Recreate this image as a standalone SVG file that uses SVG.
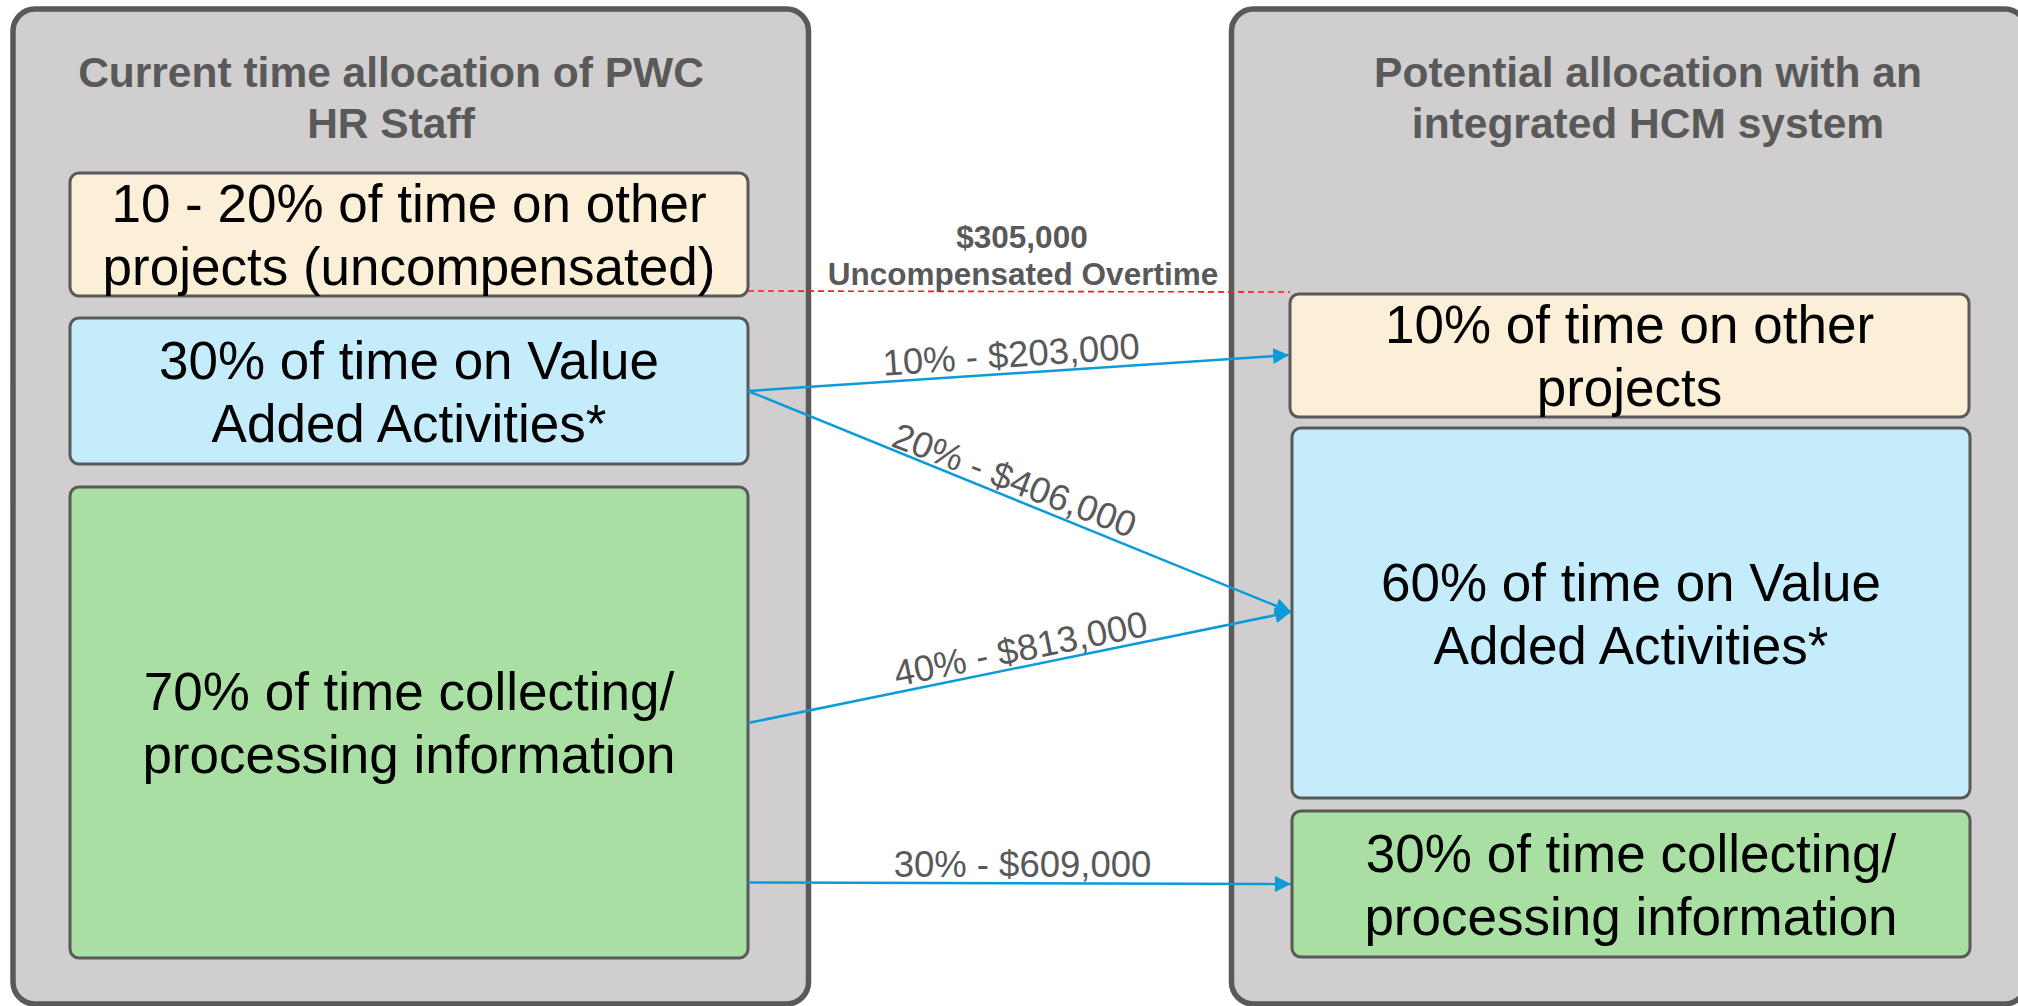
<svg xmlns="http://www.w3.org/2000/svg" width="2018" height="1006" viewBox="0 0 2018 1006">
  <style>
    .panel { fill: #D0CECE; stroke: #595959; stroke-width: 5.5; }
    .box { stroke: #595959; stroke-width: 3; }
    .cream { fill: #FBEFD8; }
    .sky { fill: #C5ECFB; }
    .mint { fill: #A9DFA2; }
    .title { font-family: "Liberation Sans", Arial, sans-serif; font-weight: bold; font-size: 42.5px; fill: #595959; text-anchor: middle; }
    .body { font-family: "Liberation Sans", Arial, sans-serif; font-size: 53px; fill: #000000; text-anchor: middle; }
    .flow { fill: none; stroke: #0B9BD8; stroke-width: 2.5; marker-end: url(#head); }
    .flowlabel { font-family: "Liberation Sans", Arial, sans-serif; font-size: 36.5px; fill: #595959; text-anchor: middle; }
    .note { font-family: "Liberation Sans", Arial, sans-serif; font-weight: bold; font-size: 31.5px; fill: #595959; text-anchor: middle; }
    .overtime { fill: none; stroke: #FF1A1A; stroke-width: 1.6; stroke-dasharray: 6 4; }
  </style>
  <defs>
    <marker id="head" markerUnits="userSpaceOnUse" markerWidth="18" markerHeight="18" refX="16" refY="8" orient="auto">
      <path d="M0,0 L16,8 L0,16 Z" fill="#0B9BD8"/>
    </marker>
  </defs>

  <rect x="0" y="0" width="2018" height="1006" fill="#FFFFFF"/>

  <!-- Current allocation column -->
  <g id="current-panel">
    <rect class="panel" x="13" y="9" width="795.5" height="995" rx="22" ry="22"/>
    <text class="title" x="391" y="87">Current time allocation of PWC</text>
    <text class="title" x="391" y="138">HR Staff</text>
  </g>

  <!-- Potential allocation column -->
  <g id="potential-panel">
    <rect class="panel" x="1231.5" y="9" width="795" height="995" rx="22" ry="22"/>
    <text class="title" x="1648" y="87">Potential allocation with an</text>
    <text class="title" x="1648" y="138">integrated HCM system</text>
  </g>

  <g id="current-other">
    <rect class="box cream" x="70" y="173" width="678" height="123" rx="9" ry="9"/>
    <text class="body" x="409" y="222">10 - 20% of time on other</text>
    <text class="body" x="409" y="285">projects (uncompensated)</text>
  </g>

  <g id="current-value">
    <rect class="box sky" x="70" y="318" width="678" height="146" rx="9" ry="9"/>
    <text class="body" x="409" y="379">30% of time on Value</text>
    <text class="body" x="409" y="442">Added Activities*</text>
  </g>

  <g id="current-processing">
    <rect class="box mint" x="70" y="487" width="678" height="471" rx="9" ry="9"/>
    <text class="body" x="409" y="710">70% of time collecting/</text>
    <text class="body" x="409" y="773">processing information</text>
  </g>

  <g id="potential-other">
    <rect class="box cream" x="1290" y="294" width="679" height="123" rx="9" ry="9"/>
    <text class="body" x="1629.5" y="343">10% of time on other</text>
    <text class="body" x="1629.5" y="406">projects</text>
  </g>

  <g id="potential-value">
    <rect class="box sky" x="1292" y="428" width="678" height="370" rx="9" ry="9"/>
    <text class="body" x="1631" y="601">60% of time on Value</text>
    <text class="body" x="1631" y="664">Added Activities*</text>
  </g>

  <g id="potential-processing">
    <rect class="box mint" x="1292" y="811" width="678" height="146" rx="9" ry="9"/>
    <text class="body" x="1631" y="872">30% of time collecting/</text>
    <text class="body" x="1631" y="935">processing information</text>
  </g>

  <!-- Connectors -->
  <g id="connectors">
    <line class="overtime" x1="748" y1="291" x2="1290" y2="292"/>
    <text class="note" x="1022" y="248">$305,000</text>
    <text class="note" x="1023" y="285">Uncompensated Overtime</text>

    <line class="flow" x1="748" y1="391" x2="1289" y2="355"/>
    <text class="flowlabel" transform="translate(1012,367) rotate(-3.86)">10% - $203,000</text>

    <line class="flow" x1="748" y1="391" x2="1291" y2="612"/>
    <text class="flowlabel" transform="translate(1010,492) rotate(21)">20% - $406,000</text>

    <line class="flow" x1="748" y1="723" x2="1291" y2="612"/>
    <text class="flowlabel" transform="translate(1023,661) rotate(-11.45)">40% - $813,000</text>

    <line class="flow" x1="748" y1="882.5" x2="1291" y2="884"/>
    <text class="flowlabel" x="1022.5" y="877">30% - $609,000</text>
  </g>
</svg>
